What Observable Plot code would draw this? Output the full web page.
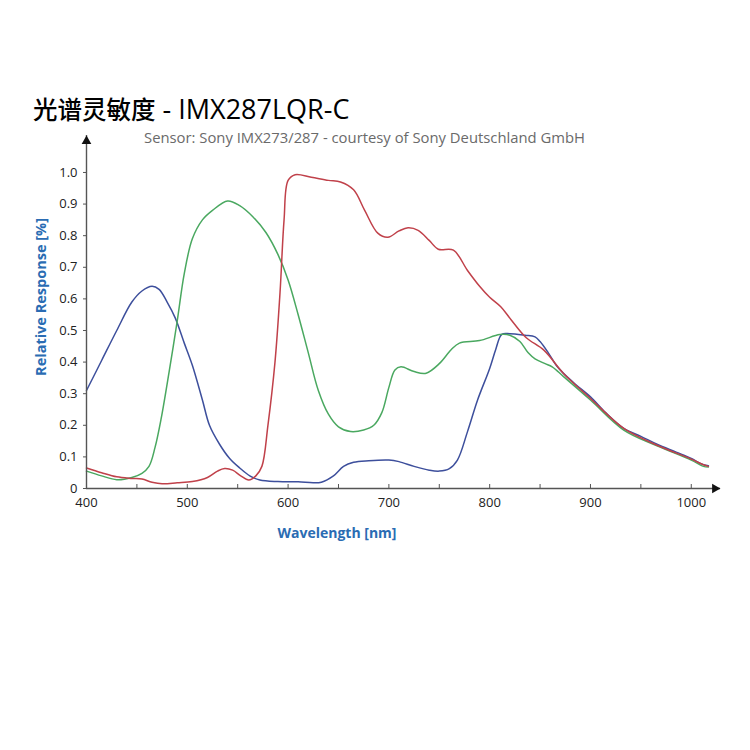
<!DOCTYPE html>
<html>
<head>
<meta charset="utf-8">
<script src="https://cdn.jsdelivr.net/npm/d3@7"></script>
<script src="https://cdn.jsdelivr.net/npm/@observablehq/plot@0.6"></script>
<style>
  html, body { margin: 0; padding: 0; background: #fff; }
  #wrap { position: relative; width: 750px; height: 750px; overflow: hidden; }
  #wrap svg { position: absolute; left: 0; top: 0; }
</style>
</head>
<body>
<div id="wrap"></div>
<script>
// ---- text ----
const titleZh = "光谱灵敏度";
const titleEn = " - IMX287LQR-C";
const subtitle = "Sensor: Sony IMX273/287 - courtesy of Sony Deutschland GmbH";
const xLabel = "Wavelength [nm]";
const yLabel = "Relative Response [%]";

// ---- axes ----
const xDomain = [400, 1029];
const yDomain = [0, 1.117];
const xMajorTicks = [400, 500, 600, 700, 800, 900, 1000];
const xMinorTicks = [450, 550, 650, 750, 850, 950];
const yTicks = [0, 0.1, 0.2, 0.3, 0.4, 0.5, 0.6, 0.7, 0.8, 0.9, 1.0];

// ---- series (wavelength nm, relative response) ----
const blueNm = [400,415,430,445,455,465,472,480,488,497,505,515,522,532,542,552,562,572,590,610,625,633,645,655,665,680,700,710,725,740,750,760,768,778,788,800,806,812,820,835,845,850,858,866,873,885,900,915,933,950,966,985,1000,1010,1017];
const blueVal = [0.31,0.405,0.5,0.59,0.625,0.64,0.63,0.59,0.54,0.46,0.39,0.28,0.20,0.14,0.095,0.065,0.04,0.027,0.022,0.021,0.018,0.02,0.04,0.07,0.083,0.088,0.09,0.085,0.07,0.058,0.055,0.063,0.09,0.18,0.28,0.38,0.44,0.488,0.49,0.485,0.48,0.465,0.43,0.39,0.365,0.33,0.29,0.24,0.19,0.165,0.14,0.115,0.095,0.078,0.072];

const greenNm = [400,415,430,445,455,462,468,474,482,490,497,505,515,525,540,552,565,578,590,600,610,620,630,640,650,662,675,685,693,700,706,712,725,737,750,762,770,790,810,820,830,838,845,855,862,873,900,933,966,1000,1012,1017];
const greenVal = [0.055,0.04,0.028,0.035,0.048,0.07,0.13,0.22,0.37,0.53,0.68,0.79,0.85,0.88,0.91,0.895,0.86,0.81,0.74,0.66,0.55,0.43,0.31,0.235,0.195,0.18,0.185,0.2,0.24,0.32,0.375,0.385,0.37,0.365,0.395,0.44,0.46,0.468,0.487,0.485,0.465,0.43,0.41,0.395,0.385,0.355,0.28,0.185,0.135,0.09,0.07,0.068];

const redNm = [400,415,430,445,455,465,475,490,505,520,530,537,545,553,561,568,574,580,587,592,596,600,607,623,640,652,665,676,689,699,710,719,729,740,749,764,778,790,800,811,821,836,854,873,900,933,966,1000,1012,1017];
const redVal = [0.065,0.05,0.037,0.032,0.03,0.02,0.015,0.018,0.022,0.035,0.055,0.063,0.058,0.04,0.027,0.04,0.07,0.2,0.4,0.62,0.85,0.975,0.993,0.985,0.975,0.97,0.945,0.88,0.808,0.795,0.815,0.825,0.817,0.785,0.757,0.754,0.69,0.64,0.605,0.575,0.535,0.478,0.437,0.365,0.285,0.19,0.137,0.093,0.075,0.07];

const seriesNames = ["B channel", "G channel", "R channel"];
const seriesColors = ["#3d4f9c", "#4aa860", "#c0414a"];

const rows = [];
[[blueNm, blueVal], [greenNm, greenVal], [redNm, redVal]].forEach(([nm, val], k) => {
  nm.forEach((w, i) => rows.push({series: seriesNames[k], nm: w, v: val[i]}));
});

const axisColor = "#555";
const blueText = "#2a6cb3";

const plot = Plot.plot({
  width: 750,
  height: 560,
  marginLeft: 86,
  marginRight: 30,
  marginTop: 135,
  marginBottom: 72,
  style: {fontFamily: "'Open Sans', sans-serif", fontSize: "13px", background: "transparent"},
  x: {domain: xDomain},
  y: {domain: yDomain},
  color: {type: "ordinal", domain: seriesNames, range: seriesColors},
  marks: [
    Plot.axisY({ticks: yTicks, tickSize: 3, tickPadding: 6, label: null, fill: "#222", stroke: axisColor,
      tickFormat: d => d === 0 ? "0" : d.toFixed(1), fontSize: 13}),
    Plot.axisX({ticks: xMajorTicks, tickSize: 0, tickPadding: 9, label: null, fill: "#222", fontSize: 13,
      tickFormat: d => String(d)}),
    Plot.ruleX(xMajorTicks.concat(xMinorTicks), {x: d => d, y1: 0, y2: 0, insetTop: -4, stroke: axisColor}),
    Plot.line(rows, {x: "nm", y: "v", z: "series", stroke: "series", strokeWidth: 1.5, curve: "catmull-rom"}),
    Plot.ruleX([xDomain[0]], {stroke: axisColor, strokeWidth: 1.4}),
    Plot.ruleY([yDomain[0]], {stroke: axisColor, strokeWidth: 1.4}),
    Plot.dot([[xDomain[0], yDomain[1]]], {x: d => d[0], y: d => d[1], symbol: "triangle", r: 3.6, fill: "#111", stroke: null, dy: 5.6}),
    Plot.dot([[xDomain[1], yDomain[0]]], {x: d => d[0], y: d => d[1], symbol: "triangle", r: 3.6, fill: "#111", stroke: null, rotate: 90, dx: -5.6})
  ]
});

const wrap = document.getElementById("wrap");
wrap.appendChild(plot);

// overlay for title, subtitle and axis labels
const svg = d3.select(wrap).append("svg")
  .attr("width", 750).attr("height", 750)
  .style("pointer-events", "none");

const t = svg.append("text").attr("x", 33).attr("y", 119).attr("fill", "#000");
t.append("tspan").attr("font-family", "'Noto Sans CJK SC', sans-serif").attr("font-weight", 500).attr("font-size", 24.5).text(titleZh);
t.append("tspan").attr("font-family", "'Open Sans', sans-serif").attr("font-size", 27).text(titleEn);

svg.append("text").attr("x", 144).attr("y", 143)
  .attr("font-family", "'Open Sans', sans-serif").attr("font-size", 14)
  .attr("fill", "#6a6a6a").attr("textLength", 441).attr("lengthAdjust", "spacingAndGlyphs")
  .text(subtitle);

svg.append("text").attr("x", 337).attr("y", 538).attr("text-anchor", "middle")
  .attr("font-family", "'Open Sans', sans-serif").attr("font-weight", 700).attr("font-size", 14)
  .attr("fill", blueText).text(xLabel);

svg.append("text").attr("transform", "translate(46,297) rotate(-90)").attr("text-anchor", "middle")
  .attr("font-family", "'Open Sans', sans-serif").attr("font-weight", 700).attr("font-size", 14.5)
  .attr("fill", blueText).text(yLabel);
</script>
</body>
</html>
